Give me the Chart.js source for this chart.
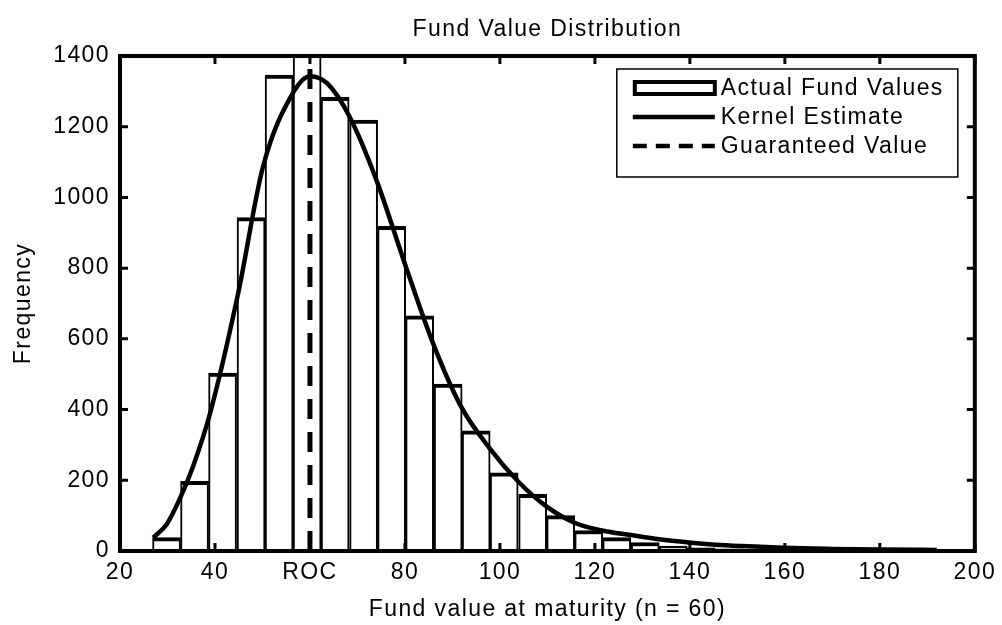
<!DOCTYPE html>
<html>
<head>
<meta charset="utf-8">
<script src="https://cdn.jsdelivr.net/npm/chart.js@4.4.0/dist/chart.umd.min.js"></script>
<style>
  html, body { margin: 0; padding: 0; background: #fff; }
  canvas { display: block; }
</style>
</head>
<body>
<canvas id="canvas" width="1002" height="625"></canvas>
<script>
// histogram bins (centre of each bin) and counts
const binCenters = [29.8, 35.7, 41.6, 47.6, 53.5, 59.4, 65.3, 71.3, 77.2, 83.1,
  89.1, 95.0, 100.9, 106.9, 112.8, 118.7, 124.6, 130.6, 136.5, 142.4,
  148.4, 154.3, 160.2, 166.2, 172.1, 178.0, 183.9, 189.9, 195.8];
const binCounts = [38, 197, 503, 943, 1346, 1480, 1283, 1219, 918, 665,
  472, 340, 221, 160, 100, 58, 38, 24, 14, 9,
  6, 4, 3, 2, 2, 1, 1, 1, 0];

// kernel density estimate, scaled to counts
const kernelX = [27, 29.8, 32.7, 35.4, 39, 44.9, 50.1, 56.4, 60, 63.6, 68.4, 74, 80.2, 85.9, 91.8,
  97.8, 104.1, 109.7, 115.7, 121.5, 127.6, 133.5, 139.8, 145.4, 151, 160, 170, 180, 192];
const kernelY = [38, 75, 151, 240, 391, 730, 1086, 1295, 1343, 1323, 1227, 1049, 804, 588, 409,
  291, 193, 127, 80, 58, 45, 33, 24, 18, 14, 9, 6, 4, 3];

// guaranteed value (ROC)
const guaranteedX = [60, 60];
const guaranteedY = [0, 1400];

const xTickValues = [20, 40, 60, 80, 100, 120, 140, 160, 180, 200];
const xTickLabels = ['20', '40', 'ROC', '80', '100', '120', '140', '160', '180', '200'];
const yTickValues = [0, 200, 400, 600, 800, 1000, 1200, 1400];

const FONT = "'Liberation Sans', Arial, Helvetica, sans-serif";
const font = { family: FONT, size: 23, weight: 'normal' };

const pairs = (xs, ys) => xs.map((x, i) => ({ x: x, y: ys[i] }));

// box frame, inward ticks and legend, matlab style
const matlabFrame = {
  id: 'matlabFrame',
  beforeDraw(chart) {
    chart.ctx.letterSpacing = '1.4px';
  },
  afterDatasetsDraw(chart) {
    const { ctx, chartArea: a, scales: { x, y } } = chart;
    ctx.save();
    ctx.strokeStyle = '#000';
    ctx.lineWidth = 3;
    ctx.beginPath();
    xTickValues.forEach(v => {
      const px = x.getPixelForValue(v);
      ctx.moveTo(px, a.bottom); ctx.lineTo(px, a.bottom - 8);
      ctx.moveTo(px, a.top); ctx.lineTo(px, a.top + 8);
    });
    yTickValues.forEach(v => {
      const py = y.getPixelForValue(v);
      ctx.moveTo(a.left, py); ctx.lineTo(a.left + 8, py);
      ctx.moveTo(a.right, py); ctx.lineTo(a.right - 8, py);
    });
    ctx.stroke();
    ctx.lineWidth = 4;
    ctx.strokeRect(a.left, a.top, a.right - a.left, a.bottom - a.top);

    // legend
    const ds = chart.data.datasets;
    const lx = a.right - 358, ly = a.top + 13, lw = 341, lh = 108;
    ctx.fillStyle = '#fff';
    ctx.fillRect(lx, ly, lw, lh);
    ctx.lineWidth = 1.5;
    ctx.strokeRect(lx, ly, lw, lh);
    const rows = [ly + 19, ly + 48, ly + 77];
    ctx.lineWidth = 4;
    ctx.strokeRect(lx + 18, rows[0] - 6, 80, 12);
    ctx.lineWidth = 4.5;
    ctx.beginPath(); ctx.moveTo(lx + 16, rows[1]); ctx.lineTo(lx + 98, rows[1]); ctx.stroke();
    ctx.setLineDash([14, 9]);
    ctx.beginPath(); ctx.moveTo(lx + 16, rows[2]); ctx.lineTo(lx + 98, rows[2]); ctx.stroke();
    ctx.setLineDash([]);
    ctx.fillStyle = '#000';
    ctx.font = '23px ' + FONT;
    ctx.textAlign = 'left';
    ctx.textBaseline = 'middle';
    ds.forEach((d, i) => ctx.fillText(d.label, lx + 104, rows[i] + 1));
    ctx.restore();
  }
};

new Chart(document.getElementById('canvas'), {
  type: 'bar',
  data: {
    datasets: [
      {
        type: 'bar',
        label: 'Actual Fund Values',
        data: pairs(binCenters, binCounts),
        backgroundColor: '#fff',
        borderColor: '#000',
        borderWidth: { top: 4, left: 2, right: 2, bottom: 0 },
        borderSkipped: 'start',
        barPercentage: 1,
        categoryPercentage: 1,
        order: 3
      },
      {
        type: 'line',
        label: 'Kernel Estimate',
        data: pairs(kernelX, kernelY),
        borderColor: '#000',
        borderWidth: 4.5,
        pointRadius: 0,
        fill: false,
        cubicInterpolationMode: 'monotone',
        order: 1
      },
      {
        type: 'line',
        label: 'Guaranteed Value',
        data: pairs(guaranteedX, guaranteedY),
        borderColor: '#000',
        borderWidth: 5,
        borderDash: [20, 13],
        pointRadius: 0,
        fill: false,
        order: 2
      }
    ]
  },
  options: {
    responsive: false,
    animation: false,
    devicePixelRatio: 1,
    layout: { padding: { left: 0, right: 25, top: 0, bottom: 0 } },
    plugins: {
      legend: { display: false },
      tooltip: { enabled: false },
      title: { display: false }
    },
    scales: {
      x: {
        type: 'linear',
        min: 20,
        max: 200,
        offset: false,
        grid: { display: false, drawTicks: false },
        border: { display: false },
        ticks: {
          stepSize: 20,
          autoSkip: false,
          maxRotation: 0,
          color: '#000',
          font: font,
          padding: 8,
          callback: v => xTickLabels[xTickValues.indexOf(v)] ?? String(v)
        },
        title: {
          display: true,
          text: 'Fund value at maturity (n = 60)',
          color: '#000',
          font: font,
          padding: { top: 0, bottom: 2 }
        },
        afterFit(s) { s.height = 74; }
      },
      // top axis only carries the chart title, centred over the plot
      xTop: {
        type: 'linear',
        position: 'top',
        min: 20,
        max: 200,
        offset: false,
        grid: { display: false, drawTicks: false },
        border: { display: false },
        ticks: { display: false },
        title: {
          display: true,
          text: 'Fund Value Distribution',
          color: '#000',
          font: font,
          padding: { top: 15.7, bottom: 0 }
        },
        afterFit(s) { s.height = 56; }
      },
      y: {
        min: 0,
        max: 1400,
        grid: { display: false, drawTicks: false },
        border: { display: false },
        ticks: { stepSize: 200, color: '#000', font: font, padding: 10, callback: v => String(v) },
        title: {
          display: true,
          text: 'Frequency',
          color: '#000',
          font: font,
          padding: { top: 10, bottom: 0 }
        },
        afterFit(s) { s.width = 120; }
      }
    }
  },
  plugins: [matlabFrame]
});
</script>
</body>
</html>
